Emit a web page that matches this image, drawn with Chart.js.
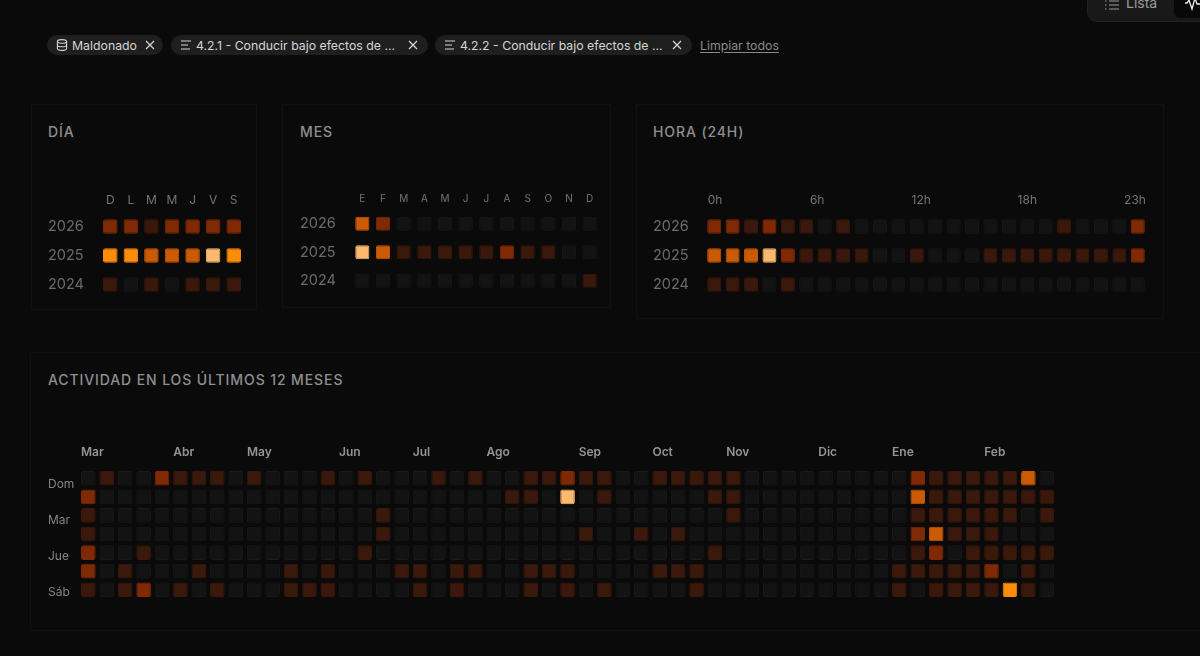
<!DOCTYPE html>
<html lang="es">
<head>
<meta charset="utf-8">
<title>Actividad</title>
<script src="https://cdn.jsdelivr.net/npm/chart.js@4/dist/chart.umd.min.js"></script>
<style>
    html, body { margin: 0; padding: 0; width: 1200px; height: 656px; overflow: hidden; background: #0a0a0a; font-family: Inter, sans-serif; }
    canvas { position: absolute; display: block; }
    .panel { position: absolute; box-sizing: border-box; border: 1px solid #111; }
    .panel-title { position: absolute; margin: 0; font-size: 14px; font-weight: 500; letter-spacing: 0.9px; color: #8f8f8f; line-height: 17px; white-space: nowrap; }
    .chip { position: absolute; top: 35px; height: 20px; box-sizing: border-box; background: #1f1f1f; border-radius: 10px; color: #d6d6d6; font-size: 12.3px; line-height: 20px; white-space: nowrap; }
    .chip span { position: absolute; left: 25px; top: 1px; }
    .chip svg { position: absolute; top: 4px; }
    .clear { position: absolute; left: 700px; top: 37px; font-size: 12.3px; line-height: 17px; color: #8a8a8a; text-decoration: underline; text-underline-offset: 2px; }
    .switch { position: absolute; left: 1087px; top: -10px; width: 130px; height: 32px; box-sizing: border-box; background: #191919; border: 1px solid #222; border-radius: 10px; }
    .switch span { position: absolute; left: 38px; top: 3px; font-size: 14px; line-height: 17px; color: #999; }
    .switch svg { position: absolute; left: 17px; top: 8px; }
    .switch i { position: absolute; left: 86px; top: 0; width: 44px; height: 27px; background: #080808; border-radius: 6px; }
    .switch i svg { left: 11px; top: 6px; }
</style>
</head>
<body>

<div class="switch">
    <svg width="14" height="12" viewBox="0 0 14 12" fill="none" stroke="#999" stroke-width="1.2"><path d="M4 2h10M4 6h10M4 10h10M0 2h1.5M0 6h1.5M0 10h1.5"/></svg>
    <span>Lista</span>
    <i><svg width="16" height="14" viewBox="0 0 16 14" fill="none" stroke="#eee" stroke-width="1.3"><path d="M0 6h2l2-3 3 9 3-11 2 6h4"/></svg></i>
</div>

<div class="chip" style="left:47px;width:116px">
    <svg style="left:9px" width="12" height="12" viewBox="0 0 12 12" fill="none" stroke="#d6d6d6" stroke-width="1.1"><ellipse cx="6" cy="2.4" rx="4.6" ry="1.8"/><path d="M1.4 2.4v7.2c0 1 2 1.8 4.6 1.8s4.6-.8 4.6-1.8V2.4M1.4 6c0 1 2 1.8 4.6 1.8s4.6-.8 4.6-1.8"/></svg>
    <span>Maldonado</span>
    <svg style="left:97px" width="12" height="12" viewBox="0 0 12 12" fill="none" stroke="#d6d6d6" stroke-width="1.2"><path d="M2 2l8 8M10 2l-8 8"/></svg>
</div>
<div class="chip" style="left:171px;width:257px">
    <svg style="left:9px" width="12" height="12" viewBox="0 0 12 12" fill="none" stroke="#d6d6d6" stroke-width="1.1"><path d="M1 2h10M1 6h7M1 10h9"/></svg>
    <span>4.2.1 - Conducir bajo efectos de ...</span>
    <svg style="left:236px" width="12" height="12" viewBox="0 0 12 12" fill="none" stroke="#d6d6d6" stroke-width="1.2"><path d="M2 2l8 8M10 2l-8 8"/></svg>
</div>
<div class="chip" style="left:435px;width:257px">
    <svg style="left:9px" width="12" height="12" viewBox="0 0 12 12" fill="none" stroke="#d6d6d6" stroke-width="1.1"><path d="M1 2h10M1 6h7M1 10h9"/></svg>
    <span>4.2.2 - Conducir bajo efectos de ...</span>
    <svg style="left:236px" width="12" height="12" viewBox="0 0 12 12" fill="none" stroke="#d6d6d6" stroke-width="1.2"><path d="M2 2l8 8M10 2l-8 8"/></svg>
</div>
<div class="clear">Limpiar todos</div>

<div class="panel" style="left:31px;top:104px;width:226px;height:206px"></div>
<div class="panel" style="left:282px;top:104px;width:329px;height:204px"></div>
<div class="panel" style="left:636px;top:104px;width:528px;height:215px"></div>
<div class="panel" style="left:30px;top:352px;width:1190px;height:279px"></div>

<h3 class="panel-title" style="left:48px;top:123px">DÍA</h3>
<h3 class="panel-title" style="left:300px;top:123px">MES</h3>
<h3 class="panel-title" style="left:653px;top:123px">HORA (24H)</h3>
<h3 class="panel-title" style="left:48px;top:371px">ACTIVIDAD EN LOS ÚLTIMOS 12 MESES</h3>

<canvas id="dayChart" width="196" height="114" style="left:48px;top:185px"></canvas>
<canvas id="monthChart" width="300" height="110" style="left:300px;top:185px"></canvas>
<canvas id="hourChart" width="494" height="114" style="left:653px;top:185px"></canvas>
<canvas id="yearChart" width="1008" height="159" style="left:48px;top:440px"></canvas>

<script>
// Data -----------------------------------------------------------------------------------

var yearLabels = ['2026', '2025', '2024'];

var dayLabels = ['D', 'L', 'M', 'M', 'J', 'V', 'S'];
var day2026 = [2, 2, 1, 2, 2, 2, 2];
var day2025 = [4, 4, 3, 3, 3, 5, 4];
var day2024 = [1, 0, 1, 0, 1, 1, 1];

var monthLetters = ['E', 'F', 'M', 'A', 'M', 'J', 'J', 'A', 'S', 'O', 'N', 'D'];
var month2026 = [3, 2, 0, 0, 0, 0, 0, 0, 0, 0, 0, 0];
var month2025 = [5, 3, 1, 1, 1, 1, 1, 2, 1, 1, 0, 0];
var month2024 = [0, 0, 0, 0, 0, 0, 0, 0, 0, 0, 0, 1];

var hourLabels = ['0h', '6h', '12h', '18h', '23h'];
var hour2026 = [2, 2, 1, 2, 1, 1, 0, 1, 0, 0, 0, 0, 0, 0, 0, 0, 0, 0, 0, 1, 0, 0, 0, 2];
var hour2025 = [3, 3, 3, 5, 2, 1, 1, 1, 1, 0, 0, 1, 0, 0, 0, 1, 1, 1, 1, 1, 1, 1, 1, 2];
var hour2024 = [1, 1, 1, 0, 1, 0, 0, 0, 0, 0, 0, 0, 0, 0, 0, 0, 0, 0, 0, 0, 0, 0, 0, 0];

var weekdayLabels = ['Dom', 'Mar', 'Jue', 'Sáb'];
var monthNames = ['Mar', 'Abr', 'May', 'Jun', 'Jul', 'Ago', 'Sep', 'Oct', 'Nov', 'Dic', 'Ene', 'Feb'];
var monthStartWeeks = [0, 5, 9, 14, 18, 22, 27, 31, 35, 40, 44, 49];

var weeksDom = [0,1,0,0,2,1,1,1,0,1, 0,0,0,1,0,1,0,0,0,1, 0,1,0,0,1,1,2,1,1,0, 0,1,1,1,1,1,0,0,0,0, 0,0,0,0,0,2,1,1,1,1, 1,3,0];
var weeksLun = [2,0,0,0,0,0,0,0,0,0, 0,0,0,0,0,0,0,0,0,0, 0,0,0,1,1,0,5,0,1,0, 0,0,0,0,1,1,0,0,0,0, 0,0,0,0,0,3,1,1,1,1, 1,1,1];
var weeksMar = [1,0,0,0,0,0,0,0,0,0, 0,0,0,0,0,0,1,0,0,0, 0,0,0,0,0,0,0,0,0,0, 0,0,0,0,0,1,0,0,0,0, 0,0,0,0,0,1,1,1,1,1, 1,0,1];
var weeksMie = [1,0,0,0,0,0,0,0,0,0, 0,0,0,0,0,0,1,0,0,0, 0,0,0,0,0,0,0,1,0,0, 1,0,1,0,0,0,0,0,0,0, 0,0,0,0,0,2,3,1,1,1, 0,0,0];
var weeksJue = [2,0,0,1,0,0,0,0,0,0, 0,0,0,0,0,1,0,0,0,0, 0,0,0,0,0,0,0,0,0,0, 0,0,0,0,1,0,0,0,0,0, 0,0,0,0,0,1,2,0,1,1, 1,1,1];
var weeksVie = [2,0,1,0,0,0,1,0,0,0, 0,1,0,1,0,0,0,1,1,0, 1,1,0,0,1,1,1,0,0,0, 0,1,1,1,0,0,0,0,0,0, 0,0,0,0,1,1,1,1,1,2, 0,1,0];
var weeksSab = [1,0,1,2,0,1,0,1,0,0, 0,1,1,1,0,0,0,0,1,0, 1,0,0,0,1,0,1,0,1,0, 0,0,0,1,0,0,0,0,0,0, 0,0,0,0,1,0,1,1,1,1, 4,1,0];

// Constants ------------------------------------------------------------------------------

var LEVEL_FILL = ['#131313', '#3a180b', '#7f2905', '#cb5a05', '#fd8c0a', '#fdba6f'];
var LEVEL_BORDER = ['#1a1a1a', '#3a180b', '#7f2905', '#cb5a05', '#fd8c0a', '#fdba6f'];

var FONT_FAMILY = 'Inter, sans-serif';

// these labels are not centred on their rows and columns, hence the fractional slots
var HOUR_LABEL_SLOTS = [0.05, 5.59, 11.24, 17.0, 22.85];
var WEEKDAY_LABEL_SLOTS = [0.31, 2.25, 4.2, 6.15];

// Functions ------------------------------------------------------------------------------

function clearAxisPadding(axis) {
    // the grid has to fill the chart area, so no room for labels hanging over the edges
    axis.paddingLeft = 0;
    axis.paddingRight = 0;
    axis.paddingTop = 0;
    axis.paddingBottom = 0;
}

function slotsToTicks(slots) {
    return slots.map(function (slot) { return { value: slot }; });
}

function createHeatmap(chartElementId, xLabels, yLabels, rows, layout) {
    var context = document.getElementById(chartElementId).getContext('2d');

    // one floating bar per cell, the level only picks the colour
    var datasets = rows.map(function (row, rowIndex) {
        return {
            grouped: false,
            data: row.map(function () {
                return [rowIndex - layout.cellHeight / 2, rowIndex + layout.cellHeight / 2];
            }),
            backgroundColor: row.map(function (level) { return LEVEL_FILL[level]; }),
            borderColor: row.map(function (level) { return LEVEL_BORDER[level]; }),
            borderWidth: 1,
            borderRadius: 2,
            borderSkipped: false,
            inflateAmount: 0,
            barPercentage: layout.cellWidth,
            categoryPercentage: 1
        };
    });

    var xAxis = {
        type: 'category',
        position: 'top',
        offset: true,
        grid: { display: false, drawTicks: false },
        border: { display: false },
        ticks: {
            autoSkip: false,
            maxRotation: 0,
            minRotation: 0,
            padding: layout.xPadding,
            align: layout.xAlign || 'center',
            labelOffset: layout.xLabelOffset || 0,
            color: layout.xColor,
            font: { family: FONT_FAMILY, size: layout.xSize, weight: layout.xWeight || 400 }
        },
        afterFit: function (axis) {
            axis.height = layout.xHeight;
            clearAxisPadding(axis);
        }
    };

    var scales = {
        x: xAxis,
        y: {
            type: 'linear',
            reverse: true,
            min: -0.5,
            max: rows.length - 0.5,
            grid: { display: false, drawTicks: false },
            border: { display: false },
            afterBuildTicks: function (axis) {
                axis.ticks = slotsToTicks(layout.ySlots || rows.map(function (row, rowIndex) { return rowIndex; }));
            },
            ticks: {
                autoSkip: false,
                crossAlign: 'far',
                color: layout.yColor,
                font: { family: FONT_FAMILY, size: layout.ySize },
                callback: function (value, index) { return yLabels[index]; }
            },
            afterFit: function (axis) {
                axis.width = layout.yWidth;
                clearAxisPadding(axis);
            }
        }
    };

    // hour labels get their own axis, the category one only places the bars
    if (layout.xSlots) {
        scales.xSlots = Object.assign({}, xAxis, {
            type: 'linear',
            offset: false,
            min: -0.5,
            max: xLabels.length - 0.5,
            afterBuildTicks: function (axis) {
                axis.ticks = slotsToTicks(layout.xSlots);
            },
            ticks: Object.assign({}, xAxis.ticks, {
                callback: function (value, index) { return layout.xSlotLabels[index]; }
            })
        });
        scales.x = Object.assign({}, xAxis, {
            display: false,
            afterFit: clearAxisPadding
        });
    }

    var chart = new Chart(context, {
        type: 'bar',
        data: {
            labels: xLabels,
            datasets: datasets
        },
        options: {
            responsive: false,
            animation: false,
            layout: { padding: 0 },
            plugins: {
                legend: { display: false },
                title: { display: false },
                tooltip: { enabled: false }
            },
            scales: scales
        }
    });

    return chart;
}

function buildWeekLabels() {
    var labels = weeksDom.map(function () { return ''; });
    monthStartWeeks.forEach(function (week, index) { labels[week] = monthNames[index]; });
    return labels;
}

// Charts ---------------------------------------------------------------------------------

createHeatmap('dayChart', dayLabels, yearLabels, [day2026, day2025, day2024], {
    cellWidth: 0.707, cellHeight: 0.507,
    xHeight: 27, yWidth: 52, xPadding: 4, xSize: 12, xColor: '#757575', ySize: 14.5, yColor: '#6b6b6b'
});

createHeatmap('monthChart', monthLetters, yearLabels, [month2026, month2025, month2024], {
    cellWidth: 0.685, cellHeight: 0.493,
    xHeight: 24.5, yWidth: 52, xPadding: 5, xSize: 10, xColor: '#757575', ySize: 14.5, yColor: '#6b6b6b'
});

createHeatmap('hourChart', hour2026.map(String), yearLabels, [hour2026, hour2025, hour2024], {
    cellWidth: 0.76, cellHeight: 0.507,
    xHeight: 27, yWidth: 52, xPadding: 4, xSize: 12, xColor: '#757575', ySize: 14.5, yColor: '#6b6b6b',
    xSlots: HOUR_LABEL_SLOTS, xSlotLabels: hourLabels
});

createHeatmap('yearChart', buildWeekLabels(), weekdayLabels, [weeksDom, weeksLun, weeksMar, weeksMie, weeksJue, weeksVie, weeksSab], {
    cellWidth: 0.792, cellHeight: 0.79,
    xHeight: 29, yWidth: 31.1, xPadding: 9, xSize: 12, xWeight: 600, xColor: '#949494', ySize: 12, yColor: '#858585',
    xAlign: 'start', xLabelOffset: -7.3,
    ySlots: WEEKDAY_LABEL_SLOTS
});
</script>
</body>
</html>
